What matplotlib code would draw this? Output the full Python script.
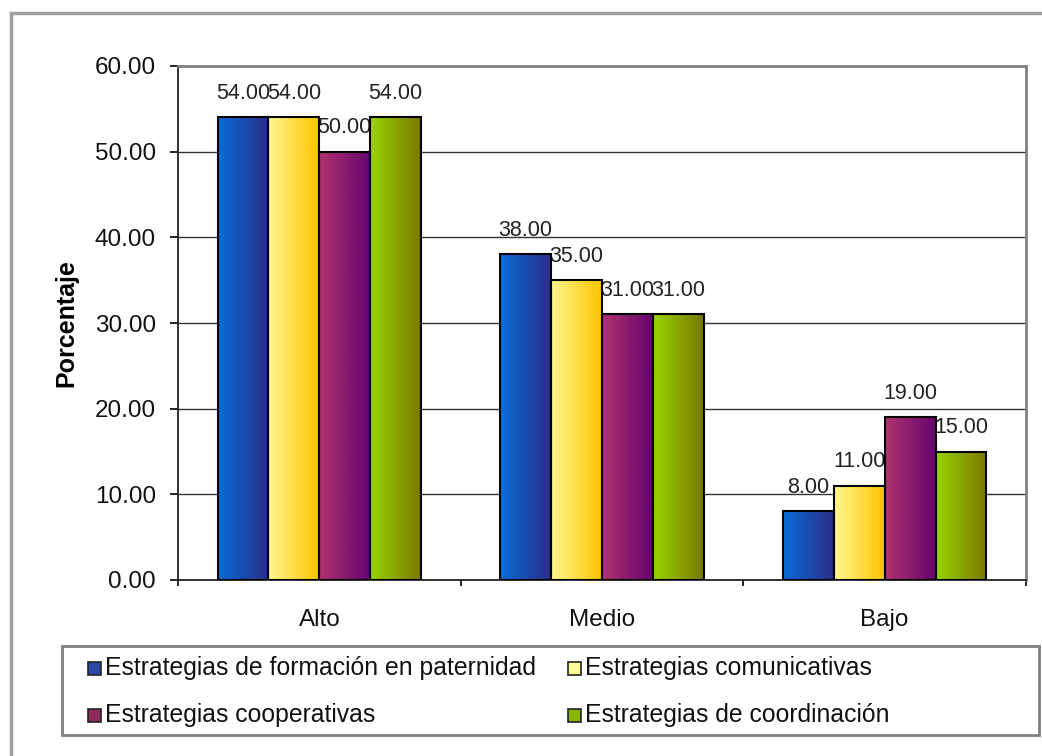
import numpy as np
import matplotlib.pyplot as plt
from matplotlib.colors import LinearSegmentedColormap
from matplotlib.patches import Rectangle

# ---- data ----
categories = ['Alto', 'Medio', 'Bajo']
series_names = ['Estrategias de formación en paternidad',
                'Estrategias comunicativas',
                'Estrategias cooperativas',
                'Estrategias de coordinación']
formacion = [54.0, 38.0, 8.0]
comunicativas = [54.0, 35.0, 11.0]
cooperativas = [50.0, 31.0, 19.0]
coordinacion = [54.0, 31.0, 15.0]
y_ticks = [0, 10, 20, 30, 40, 50, 60]

series = [formacion, comunicativas, cooperativas, coordinacion]

# gradient (left -> right) for each bar series, and flat legend colours
grad_colors = [('#0a6cd8', '#2a2e88'),
               ('#fff890', '#ffc400'),
               ('#b0336e', '#66046e'),
               ('#98d400', '#7a7800')]
legend_colors = ['#2a48a8', '#ffff99', '#8e2a5c', '#88b400']

plt.rcParams['font.family'] = ['Liberation Sans', 'DejaVu Sans']

W, H = 1042, 756
fig = plt.figure(figsize=(W / 100, H / 100), dpi=100)
fig.patch.set_facecolor('white')

# outer frame (only top/left visible in the picture)
fig.add_artist(Rectangle((11 / W, -0.2), 1.5, 1 - 13 / H + 0.2, transform=fig.transFigure,
                         fill=False, edgecolor='#a0a0a0', linewidth=2.5))

ax = fig.add_axes([178 / W, 1 - 580 / H, 848 / W, 514 / H])

x = np.arange(len(categories))
bw = 0.18
grad = np.linspace(0, 1, 64).reshape(1, -1)
for i, (vals, (c0, c1)) in enumerate(zip(series, grad_colors)):
    cmap = LinearSegmentedColormap.from_list('g%d' % i, [c0, c1])
    bars = ax.bar(x + (i - 1.5) * bw, vals, bw, facecolor='none',
                  edgecolor='black', linewidth=1.5, zorder=3)
    for b, v in zip(bars, vals):
        ax.imshow(grad, cmap=cmap, aspect='auto', interpolation='bilinear',
                  extent=[b.get_x(), b.get_x() + bw, 0, v], zorder=2)
        # labels sit under the bars, so neighbours hide part of them
        ax.annotate('%.2f' % v, (b.get_x() + bw / 2, v), xytext=(0, 24),
                    textcoords='offset pixels', ha='center', va='center',
                    fontsize=15.5, color='#222222', zorder=1)

ax.set_xlim(-0.5, len(categories) - 0.5)
ax.set_ylim(0, 60)
ax.set_yticks(y_ticks)
ax.set_yticklabels(['%.2f' % t for t in y_ticks], fontsize=17.5, color='#111111')
ax.set_xticks(x)
ax.set_xticklabels(categories, fontsize=17.5, color='#111111')
ax.set_xticks(np.arange(-0.5, len(categories)), minor=True)
ax.tick_params(axis='x', which='major', length=0, pad=21)
ax.tick_params(axis='x', which='minor', length=4, width=1.2)
ax.tick_params(axis='y', length=6, width=1.2, pad=10)

ax.yaxis.grid(True, color='#333333', linewidth=1)
ax.set_axisbelow(True)
for side in ['top', 'right']:
    ax.spines[side].set_color('#808080')
    ax.spines[side].set_linewidth(2)
for side in ['left', 'bottom']:
    ax.spines[side].set_color('#222222')
    ax.spines[side].set_linewidth(1.3)

ax.set_ylabel('Porcentaje', fontsize=18, fontweight='bold')
ax.yaxis.set_label_coords((78 - 178) / 848, 0.5)

# legend box drawn by hand (two columns, two rows)
fig.add_artist(Rectangle((62 / W, 1 - 735 / H), 977 / W, 89 / H, transform=fig.transFigure,
                         fill=False, edgecolor='#808080', linewidth=2))
spots = [(88, 668), (568, 668), (88, 715), (568, 715)]
for (px, py), name, col in zip(spots, series_names, legend_colors):
    fig.add_artist(Rectangle((px / W, 1 - (py + 6.5) / H), 13 / W, 13 / H,
                             transform=fig.transFigure, facecolor=col,
                             edgecolor='#222222', linewidth=1.2))
    fig.text((px + 17) / W, 1 - py / H, name, fontsize=17.8, va='center',
             ha='left', color='#111111')

fig.savefig('out.png', dpi=100)
